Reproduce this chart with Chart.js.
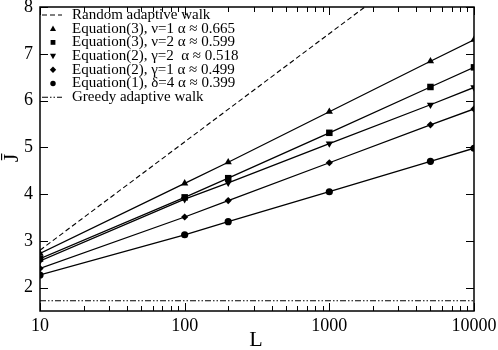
<!DOCTYPE html>
<html>
<head>
<meta charset="utf-8">
<script src="https://cdn.jsdelivr.net/npm/chart.js@4.4.1/dist/chart.umd.min.js"></script>
<style>
  body { margin: 0; background: #fff; }
  #wrap { width: 498px; height: 350px; }
</style>
</head>
<body>
<div id="wrap"><canvas id="myChart" width="498" height="350"></canvas></div>
<script>
// sizes L and mean walk length J
const sizesL = [10, 100, 200, 1000, 5000, 10000];
const eq3nu1 = [2.73, 4.23, 4.68, 5.76, 6.84, 7.30];
const eq3nu2 = [2.62, 3.93, 4.34, 5.31, 6.29, 6.71];
const eq2gamma2 = [2.57, 3.89, 4.24, 5.08, 5.91, 6.28];
const eq2gamma1 = [2.41, 3.51, 3.86, 4.67, 5.48, 5.82];
const eq1delta4 = [2.27, 3.13, 3.41, 4.05, 4.70, 4.98];
const randomL = [10, 1760];
const randomJ = [2.8, 8.0];
const greedyL = [10, 10000];
const greedyJ = [1.72, 1.72];
const xTicks = [10, 100, 1000, 10000];
const yTicks = [2, 3, 4, 5, 6, 7, 8];

const legendNames = [
  'Random adaptive walk',
  'Equation(3), \u03bd=1 \u03b1 \u2248 0.665',
  'Equation(3), \u03bd=2 \u03b1 \u2248 0.599',
  'Equation(2), \u03b3=2  \u03b1 \u2248 0.518',
  'Equation(2), \u03b3=1 \u03b1 \u2248 0.499',
  'Equation(1), \u03b4=4 \u03b1 \u2248 0.399',
  'Greedy adaptive walk'
];

const serif = "'Liberation Serif', 'Times New Roman', serif";
const pts = (xs, ys) => xs.map((x, i) => ({ x: x, y: ys[i] }));

function series(label, ys, style, radius, rotation) {
  return {
    label: label,
    data: pts(sizesL, ys),
    borderColor: '#000',
    backgroundColor: '#000',
    borderWidth: 1.3,
    pointStyle: style,
    pointRadius: radius,
    pointRotation: rotation || 0,
    pointBorderWidth: 0,
    pointBackgroundColor: '#000'
  };
}

const datasets = [
  {
    label: legendNames[0], data: pts(randomL, randomJ),
    borderColor: '#000', borderWidth: 1.1, borderDash: [5, 3], pointRadius: 0
  },
  series(legendNames[1], eq3nu1, 'triangle', 4.2),
  series(legendNames[2], eq3nu2, 'rect', 4.6),
  series(legendNames[3], eq2gamma2, 'triangle', 4.2, 180),
  series(legendNames[4], eq2gamma1, 'rectRot', 3.6),
  series(legendNames[5], eq1delta4, 'circle', 3.6),
  {
    label: legendNames[6], data: pts(greedyL, greedyJ),
    borderColor: '#000', borderWidth: 1.1, borderDash: [6, 2, 1.5, 2, 1.5, 2], pointRadius: 0
  }
];

function marker(ctx, style, x, y, r, rot) {
  ctx.save();
  ctx.translate(x, y);
  ctx.rotate((rot || 0) * Math.PI / 180);
  ctx.beginPath();
  if (style === 'triangle') {
    ctx.moveTo(0, -r);
    ctx.lineTo(r * 0.95, r * 0.7);
    ctx.lineTo(-r * 0.95, r * 0.7);
    ctx.closePath();
  } else if (style === 'rect') {
    ctx.rect(-r * 0.75, -r * 0.75, r * 1.5, r * 1.5);
  } else if (style === 'rectRot') {
    ctx.moveTo(0, -r); ctx.lineTo(r, 0); ctx.lineTo(0, r); ctx.lineTo(-r, 0);
    ctx.closePath();
  } else {
    ctx.arc(0, 0, r * 0.85, 0, Math.PI * 2);
  }
  ctx.fillStyle = '#000';
  ctx.fill();
  ctx.restore();
}

const framePlugin = {
  id: 'frame',
  afterDraw(chart) {
    const ctx = chart.ctx;
    const a = chart.chartArea;
    const xs = chart.scales.x, ys = chart.scales.y;
    ctx.save();
    ctx.strokeStyle = '#000';
    ctx.lineWidth = 1.5;
    ctx.strokeRect(a.left, a.top, a.right - a.left, a.bottom - a.top);

    ctx.lineWidth = 1;
    ctx.beginPath();
    // log ticks, bottom and top
    for (let k = 1; k <= 4; k++) {
      for (let d = 1; d <= 9; d++) {
        const v = d * Math.pow(10, k);
        if (v > 10000) break;
        const px = Math.round(xs.getPixelForValue(v)) + 0.5;
        const len = d === 1 ? 8 : 5;
        ctx.moveTo(px, a.bottom); ctx.lineTo(px, a.bottom - len);
        ctx.moveTo(px, a.top); ctx.lineTo(px, a.top + len);
      }
    }
    yTicks.forEach(v => {
      const py = Math.round(ys.getPixelForValue(v)) + 0.5;
      ctx.moveTo(a.left, py); ctx.lineTo(a.left + 8, py);
      ctx.moveTo(a.right, py); ctx.lineTo(a.right - 8, py);
    });
    ctx.stroke();

    // axis titles
    ctx.fillStyle = '#000';
    ctx.font = 'normal 400 22px ' + serif;
    ctx.textAlign = 'center';
    ctx.textBaseline = 'middle';
    ctx.fillText('L', 256, 340);
    ctx.save();
    ctx.translate(12, 158);
    ctx.rotate(-Math.PI / 2);
    ctx.fillText('J\u0304', 0, 0);
    ctx.restore();

    // legend
    ctx.font = 'normal 400 15px ' + serif;
    ctx.textAlign = 'left';
    ctx.textBaseline = 'middle';
    const rowY = [15, 28.7, 42.4, 56.1, 69.8, 83.5, 97.2];
    chart.data.datasets.forEach((ds, i) => {
      const y = rowY[i];
      if (ds.pointRadius === 0) {
        ctx.save();
        ctx.lineWidth = 1.1;
        ctx.setLineDash(ds.borderDash);
        ctx.beginPath();
        ctx.moveTo(42, y); ctx.lineTo(62, y);
        ctx.stroke();
        ctx.restore();
      } else {
        marker(ctx, ds.pointStyle, 53, y, 3.2, ds.pointRotation);
      }
      ctx.fillText(ds.label, 72, y);
    });
    ctx.restore();
  }
};

const config = {
  type: 'line',
  data: { datasets: datasets },
  options: {
    responsive: false,
    animation: false,
    layout: { padding: { top: 7, right: 24, left: 0, bottom: 0 } },
    plugins: { legend: { display: false }, tooltip: { enabled: false } },
    scales: {
      x: {
        type: 'logarithmic',
        min: 10,
        max: 10000,
        grid: { display: false, drawTicks: false },
        border: { display: false },
        afterBuildTicks: (scale) => { scale.ticks = xTicks.map(v => ({ value: v })); },
        afterFit: (scale) => { scale.height = 39; scale.paddingLeft = 0; scale.paddingRight = 0; },
        ticks: {
          padding: 4,
          color: '#000',
          maxRotation: 0,
          font: { family: serif, size: 18 },
          callback: (v) => String(v)
        }
      },
      y: {
        type: 'linear',
        min: 1.5,
        max: 8,
        grid: { display: false, drawTicks: false },
        border: { display: false },
        afterBuildTicks: (scale) => { scale.ticks = yTicks.map(v => ({ value: v })); },
        afterFit: (scale) => { scale.width = 40; scale.paddingTop = 0; scale.paddingBottom = 0; },
        ticks: {
          padding: 7,
          color: '#000',
          font: { family: serif, size: 18 },
          callback: (v) => String(v)
        }
      }
    }
  },
  plugins: [framePlugin]
};

const myChart = new Chart(document.getElementById('myChart'), config);
</script>
</body>
</html>
